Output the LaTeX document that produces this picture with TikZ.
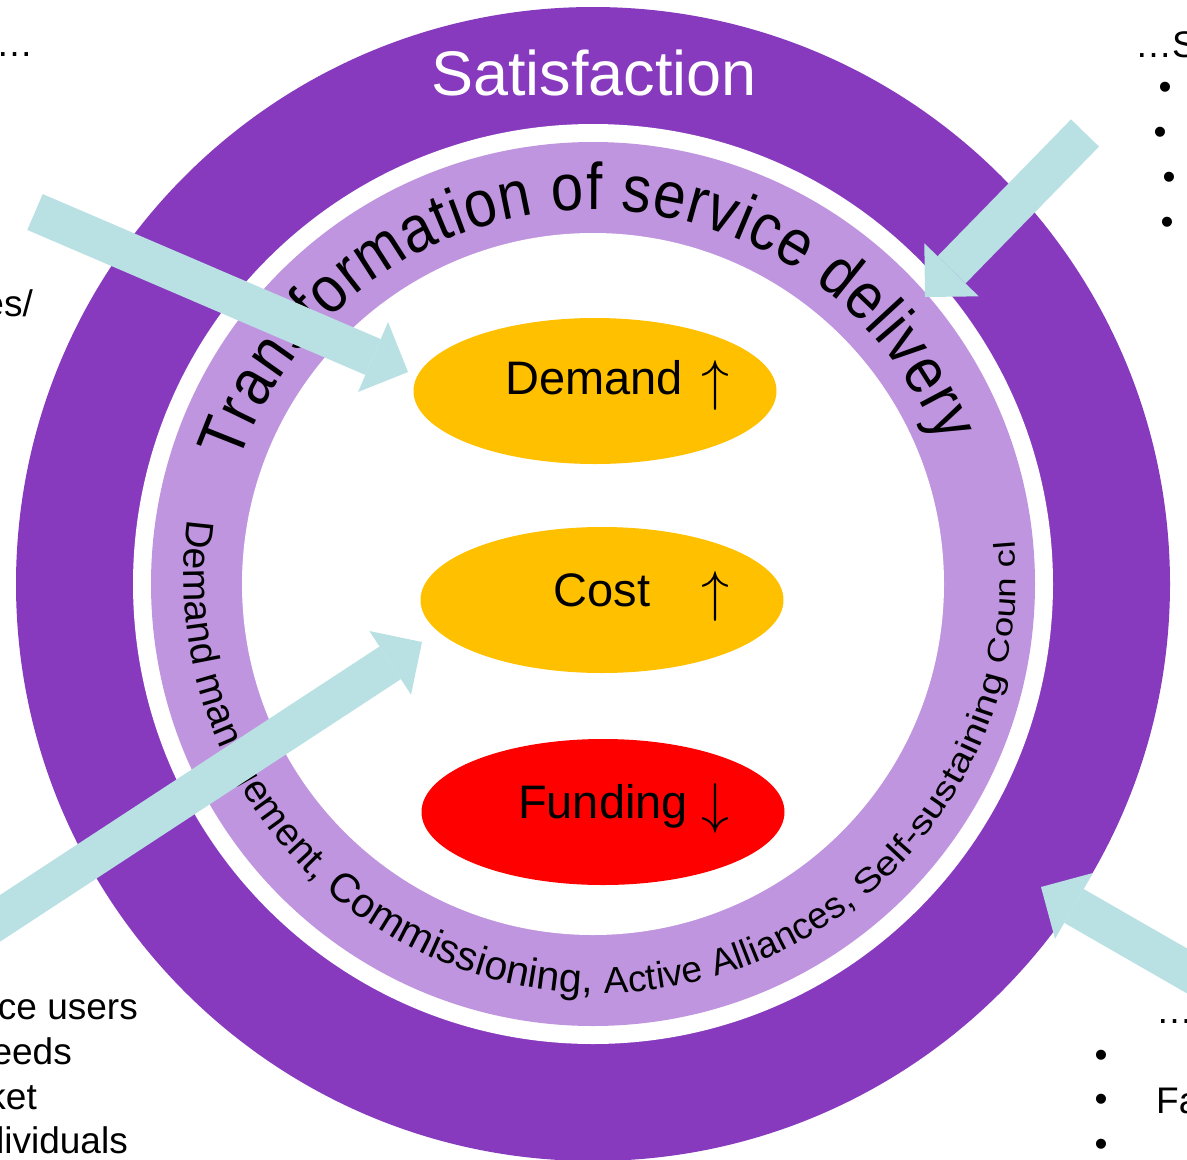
\RequirePackage{fix-cm}
\documentclass[tikz,border=0pt]{standalone}
\usepackage{fontspec}
\setmainfont{Liberation Sans}
\newfontfamily\archfont[FakeStretch=0.88]{Liberation Sans}
\newfontfamily\widefont[FakeStretch=1.22]{Liberation Sans}
\usetikzlibrary{shapes.geometric,arrows.meta,decorations.text}

\definecolor{ringpurple}{RGB}{136,58,191}
\definecolor{lilac}{RGB}{191,149,223}
\definecolor{pushcyan}{RGB}{185,224,227}
\definecolor{amber}{RGB}{255,192,0}
\definecolor{fundred}{RGB}{255,0,0}

\begin{document}
\begin{tikzpicture}[x=1pt, y=1pt]
\tikzstyle{ovalr}=[ellipse, minimum width=363pt, minimum height=146pt, inner sep=0pt]
\tikzstyle{wordr}=[anchor=base, inner sep=0pt, font=\fontsize{47}{47}\selectfont]
\tikzstyle{tickr}=[anchor=base, inner sep=0pt, font=\fontsize{56}{56}\selectfont]
\tikzstyle{sider}=[inner sep=0pt, font=\fontsize{37}{45}\selectfont]
\tikzstyle{dotr}=[inner sep=0pt, font=\fontsize{37}{45}\selectfont]
\tikzstyle{pushstyle}=[draw=pushcyan, line width=39pt, -{Triangle[width=76pt, length=38pt, line width=0pt]}]

\useasboundingbox (0,0) rectangle (1187,-1160);
\clip (0,0) rectangle (1187,-1160);
\fill[white] (0,0) rectangle (1187,-1160);

% rings
\coordinate (hub) at (593,-584);
\coordinate (hubtext) at (600,-577);
\fill[ringpurple] (hub) circle[radius=577pt];
\fill[white] (hub) circle[radius=460pt];
\fill[lilac] (hub) circle[radius=442pt];
\fill[white] (hub) circle[radius=351pt];

\node[anchor=base, inner sep=0pt, text=white, font=\fontsize{63}{63}\selectfont] (sat) at (594,-95) {Satisfaction};

% curved texts
\path[decorate, decoration={text along path, text align=fit to path,
  text={|\archfont\fontsize{66}{66}\selectfont|Transformation of service delivery}}]
  (hub) ++(161:374) arc[start angle=161, end angle=22, radius=374];
\path[decorate, decoration={text along path, text align=fit to path,
  text={|\fontsize{39}{39}\selectfont|Demand management, |\fontsize{41}{41}\selectfont|Commissioning, |\fontsize{37}{37}\selectfont|Active Alliances, |\widefont\fontsize{33}{33}\selectfont|Self-sustaining |\widefont\fontsize{30}{30}\selectfont|Coun cl}}]
  (hubtext) ++(172:416) arc[start angle=172, end angle=365, radius=416];

% the three ovals
\node[ovalr, fill=amber] (dem) at (595,-391) {};
\node[ovalr, fill=amber] (cost) at (602,-600) {};
\node[ovalr, fill=fundred] (fund) at (603,-812) {};
\node[wordr] (demw) at (594,-394) {Demand};
\node[tickr] (demup) at (715,-399) {$\uparrow$};
\node[wordr] (costw) at (602,-606) {Cost};
\node[tickr] (costup) at (715,-610) {$\uparrow$};
\node[wordr] (fundw) at (603,-818) {Funding};
\node[tickr] (funddn) at (715,-822) {$\downarrow$};

% pressure arrows
\coordinate (fromNW) at (35,-212);
\coordinate (toNW) at (408,-372);
\coordinate (fromNE) at (1085,-133);
\coordinate (toNE) at (925,-297);
\coordinate (fromSW) at (-30,-938);
\coordinate (toSW) at (422,-642);
\coordinate (fromSE) at (1222,-991);
\coordinate (toSE) at (1041,-887);
\draw[pushstyle] (fromNW) -- (toNW);
\draw[pushstyle] (fromNE) -- (toNE);
\draw[pushstyle] (fromSW) -- (toSW);
\draw[pushstyle] (fromSE) -- (toSE);

% side texts
\node[sider, anchor=base west] (tlell) at (-4,-56) {…};
\node[sider, anchor=base east] (lslash) at (33,-316) {es/};
\node[sider, anchor=base east] (bl1) at (138,-1019) {ce users};
\node[sider, anchor=base east] (bl2) at (72,-1064) {eeds};
\node[sider, anchor=base east] (bl3) at (37,-1109) {ket};
\node[sider, anchor=base east] (bl4) at (128,-1153) {dividuals};
\node[sider, anchor=base west] (trell) at (1135,-57) {…S};
\node[dotr] (trb1) at (1165,-91) {•};
\node[dotr] (trb2) at (1160,-136) {•};
\node[dotr] (trb3) at (1169,-181) {•};
\node[dotr] (trb4) at (1167,-226) {•};
\node[sider, anchor=base west] (brell) at (1156,-1023) {…};
\node[dotr] (brb1) at (1101,-1059) {•};
\node[dotr] (brb2) at (1101,-1103) {•};
\node[dotr] (brb3) at (1101,-1148) {•};
\node[sider, anchor=base west] (brfa) at (1156,-1113) {Fa};
\end{tikzpicture}
\end{document}
